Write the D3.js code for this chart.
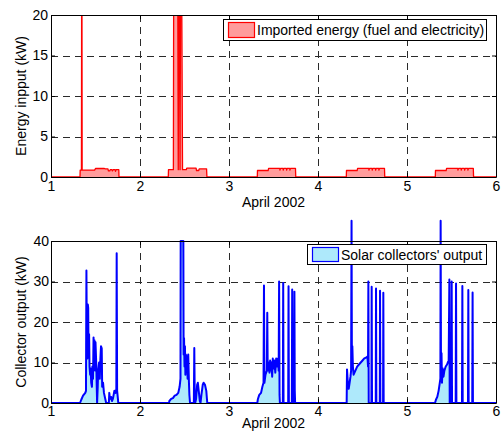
<!DOCTYPE html>
<html>
<head>
<meta charset="utf-8">
<script src="https://cdn.jsdelivr.net/npm/d3@7"></script>
<style>
  body { margin: 0; background: #fff; }
  svg { font-family: "Liberation Sans", Arial, sans-serif; }
</style>
</head>
<body>
<div id="chart"></div>
<script>
// x ticks (days of April 2002)
const dayTicks = [1, 2, 3, 4, 5, 6];
const energyTicks = [0, 5, 10, 15, 20];
const solarTicks = [0, 10, 20, 30, 40];

// imported energy (kW) — time in days
const importedT = [
  1, 1.004, 1.326, 1.328, 1.342, 1.344, 1.348, 1.35, 1.49, 1.50, 1.60, 1.61, 1.64, 1.645, 1.66, 1.665, 1.685, 1.69, 1.70, 1.72, 1.725, 1.73, 1.762, 1.764,
  2.318, 2.32, 2.375, 2.378, 2.425, 2.43, 2.435, 2.445, 2.45, 2.455, 2.47, 2.478, 2.52, 2.525, 2.63, 2.635, 2.66, 2.665, 2.748, 2.752,
  3.318, 3.32, 3.44, 3.445, 3.57, 3.573, 3.578, 3.607, 3.61, 3.615, 3.645, 3.648, 3.653, 3.682, 3.685, 3.69, 3.747, 3.75,
  4.318, 4.32, 4.44, 4.445, 4.57, 4.573, 4.578, 4.607, 4.61, 4.615, 4.645, 4.648, 4.653, 4.682, 4.685, 4.69, 4.747, 4.75,
  5.318, 5.32, 5.44, 5.445, 5.57, 5.573, 5.578, 5.607, 5.61, 5.615, 5.645, 5.648, 5.653, 5.682, 5.685, 5.69, 5.745, 5.748,
  6
];
const importedKW = [
  1.3, 0, 0, 0.85, 0.85, 20, 20, 0.85, 0.85, 1.05, 1.05, 1.0, 1.0, 0.75, 0.75, 0.9, 0.9, 0.75, 0.9, 0.9, 0.7, 0.9, 0.9, 0,
  0, 0.9, 0.9, 20, 20, 0.9, 20, 20, 0.9, 20, 20, 0.9, 0.9, 1.1, 1.1, 0.8, 0.8, 1.0, 1.0, 0,
  0, 0.8, 0.8, 1.07, 1.07, 0.85, 1.07, 1.07, 0.85, 1.07, 1.07, 0.85, 1.07, 1.07, 0.85, 1.07, 1.07, 0,
  0, 0.8, 0.8, 1.07, 1.07, 0.85, 1.07, 1.07, 0.85, 1.07, 1.07, 0.85, 1.07, 1.07, 0.85, 1.07, 1.07, 0,
  0, 0.8, 0.8, 1.07, 1.07, 0.85, 1.07, 1.07, 0.85, 1.07, 1.07, 0.85, 1.07, 1.07, 0.85, 1.07, 1.07, 0,
  0
];

// solar collectors' output (kW)
const solarT = [
  1, 1.326, 1.34, 1.36, 1.385, 1.393, 1.398, 1.402, 1.405, 1.409, 1.414, 1.418, 1.422, 1.428, 1.433, 1.44, 1.445, 1.452, 1.46, 1.465, 1.472, 1.478, 1.482, 1.488, 1.494, 1.50, 1.508, 1.514, 1.518, 1.525, 1.53, 1.54, 1.548, 1.555, 1.562, 1.57, 1.575, 1.585, 1.595, 1.61, 1.62, 1.65, 1.655, 1.662, 1.675, 1.685, 1.695, 1.712, 1.725, 1.734, 1.738, 1.743, 1.752, 1.756,
  2.326, 2.33, 2.35, 2.37, 2.39, 2.41, 2.43, 2.445, 2.455, 2.457, 2.487, 2.49, 2.495, 2.50, 2.505, 2.51, 2.515, 2.52, 2.528, 2.535, 2.542, 2.55, 2.555, 2.562, 2.605, 2.61, 2.615, 2.62, 2.63, 2.642, 2.65, 2.66, 2.672, 2.68, 2.69, 2.705, 2.715, 2.73, 2.745, 2.752, 2.756,
  3.318, 3.325, 3.34, 3.36, 3.375, 3.388, 3.393, 3.398, 3.41, 3.425, 3.43, 3.435, 3.445, 3.455, 3.462, 3.47, 3.478, 3.485, 3.492, 3.50, 3.51, 3.52, 3.53, 3.54, 3.55, 3.558, 3.563, 3.568, 3.572, 3.605, 3.609, 3.613, 3.665, 3.669, 3.673, 3.706, 3.71, 3.714, 3.731, 3.735, 3.739, 3.743,
  4.322, 4.326, 4.335, 4.345, 4.355, 4.365, 4.372, 4.377, 4.381, 4.386, 4.392, 4.40, 4.42, 4.44, 4.46, 4.48, 4.50, 4.52, 4.54, 4.556, 4.562, 4.566, 4.57, 4.60, 4.603, 4.607, 4.649, 4.652, 4.656, 4.694, 4.697, 4.701, 4.731, 4.734, 4.738,
  5.315, 5.325, 5.34, 5.355, 5.368, 5.375, 5.378, 5.382, 5.388, 5.393, 5.40, 5.41, 5.42, 5.435, 5.45, 5.462, 5.468, 5.476, 5.48, 5.498, 5.502, 5.506, 5.547, 5.551, 5.555, 5.618, 5.622, 5.626, 5.685, 5.689, 5.693, 5.733, 5.737, 5.741,
  6
];
const solarKW = [
  0, 0, 0.8, 1.8, 2.5, 3, 32.7, 18, 20, 11, 24.3, 23.5, 12, 17, 9, 7, 8.5, 5, 4, 9, 6, 16.2, 12, 15.5, 8, 15, 10, 4, 0, 4, 8, 10, 6, 11, 14, 13.5, 4, 5, 2.5, 1, 0, 0, 2.5, 1, 1.5, 0.5, 1, 3, 2.5, 3.5, 37, 3, 1, 0,
  0, 0.5, 1, 1.2, 1.8, 2, 2.5, 4, 6, 40, 40, 12, 16, 9, 14, 7, 12, 8, 11.5, 6, 12, 5, 2, 0, 0, 13.6, 2, 0, 1, 4.5, 5, 3, 0.5, 0, 2, 4.5, 5, 4.5, 3, 1, 0,
  0, 1, 2, 2.5, 4, 5, 29, 5, 7, 8, 22.3, 8, 10, 7.5, 10.5, 8, 10, 6.5, 11, 8.5, 10.5, 7.5, 11, 9, 11, 8, 30, 2, 0, 0, 29.6, 0, 0, 28.8, 0, 0, 28, 0, 0, 27.5, 3, 0,
  0, 8.3, 5, 3.5, 5, 6.5, 8, 45, 9, 14, 9, 7, 8, 9, 9.5, 10, 10.5, 11, 11.2, 11.5, 9, 30, 0, 0, 28.7, 0, 0, 28.3, 0, 0, 27.7, 0, 0, 27.2, 0,
  0, 0.8, 1.5, 3, 4.9, 6, 45, 8, 12.3, 5, 8.6, 6.5, 8, 9, 9.5, 10.2, 10, 30.5, 0, 0, 30, 0, 0, 29.5, 0, 0, 28.9, 0, 0, 27.9, 0, 0, 27.3, 0,
  0
];

const W = 501, H = 435;
const svg = d3.select("#chart").append("svg")
  .attr("width", W).attr("height", H);

function panel(cfg) {
  const x = d3.scaleLinear().domain([1, 6]).range([51, 496]);
  const y = d3.scaleLinear().domain(cfg.yDomain).range([cfg.bottom, cfg.top]);
  const g = svg.append("g");
  const pts = cfg.t.map((t, i) => ({ t, v: cfg.v[i] }));

  g.append("rect")
    .attr("x", 51).attr("y", cfg.top)
    .attr("width", 445).attr("height", cfg.bottom - cfg.top)
    .attr("fill", "#fff");

  // dashed grid
  const grid = g.append("g")
    .attr("stroke", "#2a2a2a").attr("stroke-width", 1)
    .attr("stroke-dasharray", "7,5").attr("fill", "none");
  grid.selectAll(".gx").data(dayTicks.slice(1, -1)).join("line")
    .attr("x1", d => Math.round(x(d)) + 0.5).attr("x2", d => Math.round(x(d)) + 0.5)
    .attr("y1", cfg.top).attr("y2", cfg.bottom);
  grid.selectAll(".gy").data(cfg.yTicks.slice(1, -1)).join("line")
    .attr("y1", d => Math.round(y(d)) + 0.5).attr("y2", d => Math.round(y(d)) + 0.5)
    .attr("x1", 51).attr("x2", 496);

  let clipId = null;
  if (cfg.clip) {
    clipId = cfg.id + "-clip";
    svg.append("clipPath").attr("id", clipId).append("rect")
      .attr("x", 51).attr("y", cfg.top)
      .attr("width", 445).attr("height", cfg.bottom - cfg.top);
  }
  const dataG = g.append("g");
  if (clipId) dataG.attr("clip-path", `url(#${clipId})`);

  const area = d3.area().x(d => x(d.t)).y0(y(0)).y1(d => y(d.v));
  const line = d3.line().x(d => x(d.t)).y(d => y(d.v));
  dataG.append("path").datum(pts).attr("d", area).attr("fill", cfg.fill);
  dataG.append("path").datum(pts).attr("d", line)
    .attr("fill", "none").attr("stroke", cfg.stroke)
    .attr("stroke-width", cfg.sw).attr("stroke-linejoin", "round");

  // box + ticks
  const fmt = d3.format("d");
  const ax = (gen, tr, labels) => {
    const a = g.append("g").attr("transform", tr)
      .call(gen.tickSizeInner(-4).tickSizeOuter(0).tickPadding(labels ? cfg.pad : 0)
        .tickFormat(labels ? fmt : ""));
    a.select(".domain").attr("stroke", "#000");
    a.selectAll(".tick line").attr("stroke", "#000");
    a.selectAll("text").attr("font-size", 14).attr("fill", "#000")
      .attr("font-family", "Liberation Sans, Arial, sans-serif");
    return a;
  };
  ax(d3.axisBottom(x).tickValues(dayTicks), `translate(0,${cfg.bottom})`, true);
  ax(d3.axisTop(x).tickValues(dayTicks), `translate(0,${cfg.top})`, false);
  ax(d3.axisLeft(y).tickValues(cfg.yTicks), "translate(51,0)", true)
    .selectAll("text").attr("dx", 1);
  ax(d3.axisRight(y).tickValues(cfg.yTicks), "translate(496,0)", false);

  g.append("text")
    .attr("x", 273.5).attr("y", cfg.xLabelY)
    .attr("text-anchor", "middle").attr("font-size", 14)
    .text("April 2002");
  g.append("text")
    .attr("transform", `translate(26,${(cfg.top + cfg.bottom) / 2}) rotate(-90)`)
    .attr("text-anchor", "middle").attr("font-size", 14)
    .text(cfg.yLabel);

  // legend
  const lg = g.append("g");
  lg.append("rect")
    .attr("x", cfg.leg[0] + 0.5).attr("y", cfg.leg[1] + 0.5)
    .attr("width", 486 - cfg.leg[0]).attr("height", cfg.leg[2])
    .attr("fill", "#fff").attr("stroke", "#000");
  lg.append("rect")
    .attr("x", cfg.leg[0] + 5.5).attr("y", cfg.leg[1] + 3.5)
    .attr("width", 26).attr("height", cfg.leg[2] - 6)
    .attr("fill", cfg.fill).attr("stroke", cfg.stroke).attr("stroke-width", 1.2);
  lg.append("text")
    .attr("x", cfg.leg[0] + 34).attr("y", cfg.leg[1] + cfg.leg[2] / 2 + 5.5)
    .attr("font-size", 14).text(cfg.legText);
}

panel({
  id: "imp", top: 15, bottom: 177, yDomain: [0, 20], yTicks: energyTicks,
  t: importedT, v: importedKW, fill: "#ff9c9c", stroke: "#ff0000", sw: 1.3,
  clip: true, pad: 4, xLabelY: 207, yLabel: "Energy inpput (kW)",
  leg: [223, 19, 21], legText: "Imported energy (fuel and electricity)"
});
panel({
  id: "sol", top: 241, bottom: 403, yDomain: [0, 40], yTicks: solarTicks,
  t: solarT, v: solarKW, fill: "#aee9fb", stroke: "#0000ff", sw: 2,
  clip: false, pad: 3, xLabelY: 428, yLabel: "Collector output (kW)",
  leg: [307, 244, 20], legText: "Solar collectors' output"
});
</script>
</body>
</html>
